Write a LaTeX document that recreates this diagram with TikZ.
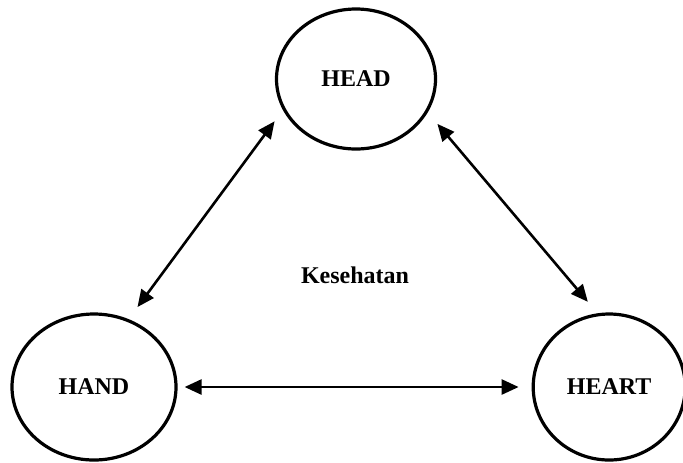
\documentclass[tikz,border=0pt]{standalone}
\usepackage{fontspec}
\setmainfont{Liberation Serif}
\usetikzlibrary{
  shapes.geometric,
  positioning,
  arrows.meta
}

\tikzset{
  aspect/.style = {ellipse, draw, line width=1.6pt, inner sep=0pt,
                   font=\fontsize{12}{14}\selectfont\bfseries},
  link/.style   = {{Triangle[length=8.5pt,width=7.5pt]}-{Triangle[length=8.5pt,width=7.5pt]},
                   line width=1.3pt}
}

\begin{document}
\begin{tikzpicture}[x=0.5pt, y=-0.5pt]
      \useasboundingbox (0,0) rectangle (683,462);

      \node[aspect,minimum width=79.5pt,minimum height=70pt] (head) at (356,79) {HEAD};
      \node[aspect,minimum width=82pt,minimum height=73pt] (hand) at (94,387) {HAND};
      \node[aspect,minimum width=76pt,minimum height=73pt,right = 177pt of hand] (heart) {HEART};
      \node[font=\fontsize{12}{14}\selectfont\bfseries] (sehat) at (355,275) {Kesehatan};

      \draw[link,shorten <=7.5pt,shorten >=7pt] (hand.63) -- (head.203);
      \draw[link,shorten <=7.5pt,shorten >=7.5pt] (head.335) -- (heart.99);
      \draw[link,shorten <=3.5pt,shorten >=6.5pt] (hand.east) -- (heart.west);
    \end{tikzpicture}
\end{document}
